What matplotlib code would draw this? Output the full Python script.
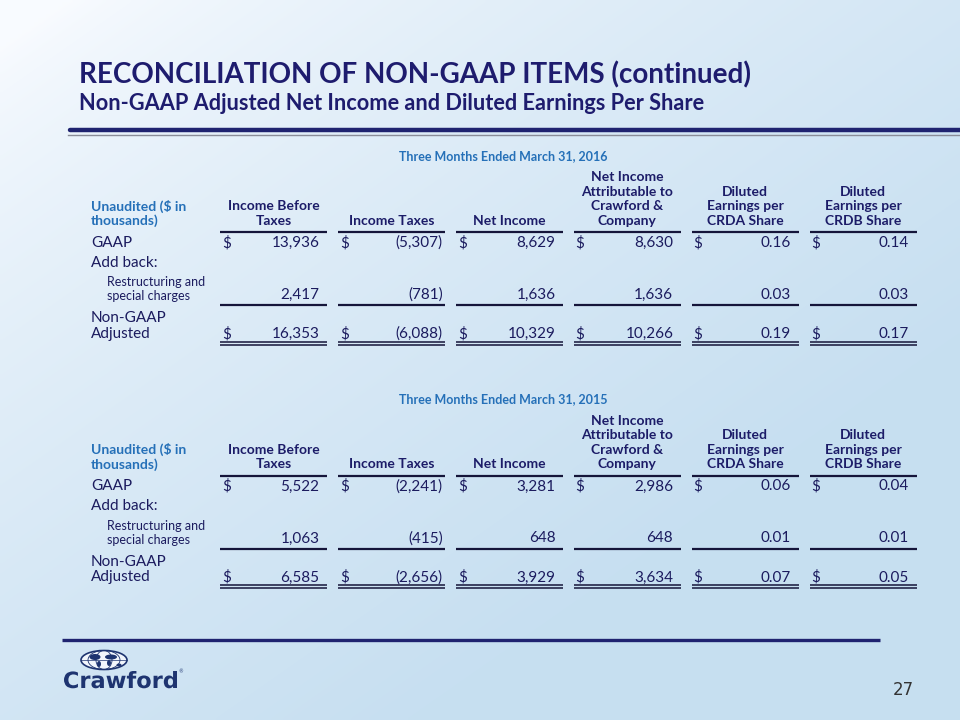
import matplotlib
matplotlib.use('Agg')
import matplotlib.pyplot as plt
import numpy as np
from matplotlib.patches import Ellipse, PathPatch
from matplotlib.textpath import TextPath
from matplotlib.font_manager import FontProperties
from matplotlib.transforms import Affine2D

# ---------------- data ----------------
title = "RECONCILIATION OF NON-GAAP ITEMS (continued)"
subtitle = "Non-GAAP Adjusted Net Income and Diluted Earnings Per Share"
period_2016 = "Three Months Ended March 31, 2016"
period_2015 = "Three Months Ended March 31, 2015"
stub_header = "Unaudited ($ in\nthousands)"
column_headers = ["Income Before\nTaxes", "Income Taxes", "Net Income",
                  "Net Income\nAttributable to\nCrawford &\nCompany",
                  "Diluted\nEarnings per\nCRDA Share", "Diluted\nEarnings per\nCRDB Share"]
row_labels = ["GAAP", "Add back:", "Restructuring and\nspecial charges", "Non-GAAP\nAdjusted"]

gaap_2016 = [13936, -5307, 8629, 8630, 0.16, 0.14]
restructuring_2016 = [2417, -781, 1636, 1636, 0.03, 0.03]
adjusted_2016 = [16353, -6088, 10329, 10266, 0.19, 0.17]

gaap_2015 = [5522, -2241, 3281, 2986, 0.06, 0.04]
restructuring_2015 = [1063, -415, 648, 648, 0.01, 0.01]
adjusted_2015 = [6585, -2656, 3929, 3634, 0.07, 0.05]

page_number = "27"
logo_text = "Crawford"

# ---------------- style ----------------
FONT = ['Lato', 'DejaVu Sans']
TITLE_C = '#1E1C6E'
NAVY = '#1B1B5E'
HEAD_C = '#1C1C68'
MID_BLUE = '#2570B8'
RULE_C = '#15153A'

fig = plt.figure(figsize=(9.6, 7.2), dpi=100)
ax = fig.add_axes([0, 0, 1, 1])
ax.set_xlim(0, 960)
ax.set_ylim(720, 0)
ax.axis('off')

# background gradient
H, W = 180, 240
yy, xx = np.mgrid[0:H, 0:W]
xn = xx / (W - 1)
yn = yy / (H - 1)
t = np.clip(0.7 * xn + 0.75 * yn - 0.05, 0, 1) ** 0.7
white = np.array([0.975, 0.985, 1.0])
blue = np.array([0.78, 0.875, 0.945])
bg = white[None, None, :] * (1 - t[..., None]) + blue[None, None, :] * t[..., None]
ax.imshow(bg, extent=[0, 960, 720, 0], aspect='auto', zorder=0, interpolation='bilinear')

# title
ax.text(79, 75, title, fontsize=20, fontweight='bold', color=TITLE_C, family=FONT,
        va='center', ha='left')
ax.text(79, 104, subtitle, fontsize=15.7, fontweight='bold', color=TITLE_C, family=FONT,
        va='center', ha='left')
ax.plot([70, 960], [130, 130], color='#1F2370', lw=3.2, solid_capstyle='round', zorder=3)
ax.plot([68, 960], [134.5, 134.5], color='#8A8C98', lw=1.0, zorder=3)

# table geometry
col_left = [220 + i * 117.9 for i in range(6)]
col_w = 107
stub_x = 91


def fmt(v):
    if isinstance(v, float) and abs(v) < 1:
        s = f"{abs(v):.2f}"
    else:
        s = f"{abs(int(v)):,}"
    return f"({s})" if v < 0 else s


def draw_values(vals, y, dollar):
    for i, v in enumerate(vals):
        left = col_left[i]
        right = left + col_w
        if dollar:
            ax.text(left + 2, y, "$", fontsize=11, color=NAVY, family=FONT, va='center', ha='left')
        xr = right - 2 if v < 0 else right - 7.5
        ax.text(xr, y, fmt(v), fontsize=11, color=NAVY, family=FONT, va='center', ha='right')


def rule(y, lw=1.6):
    for i in range(6):
        ax.plot([col_left[i], col_left[i] + col_w], [y, y], color=RULE_C, lw=lw,
                solid_capstyle='butt', zorder=3)


def draw_table(dy, period, gaap, restr, adj):
    ax.text(503, 156 + dy, period, fontsize=9, fontweight='bold', color=MID_BLUE,
            family=FONT, va='center', ha='center')
    for k, line in enumerate(reversed(stub_header.split('\n'))):
        ax.text(stub_x, 221 + dy - k * 14.6, line, fontsize=10, fontweight='bold',
                color=MID_BLUE, family=FONT, va='center', ha='left')
    for i, h in enumerate(column_headers):
        cx = col_left[i] + col_w / 2
        for k, line in enumerate(reversed(h.split('\n'))):
            ax.text(cx, 221 + dy - k * 14.6, line, fontsize=10, fontweight='bold',
                    color=HEAD_C, family=FONT, va='center', ha='center')
    rule(232 + dy)
    ax.text(stub_x, 243 + dy, row_labels[0], fontsize=11, color=NAVY, family=FONT, va='center')
    draw_values(gaap, 243 + dy, True)
    ax.text(stub_x, 263 + dy, row_labels[1], fontsize=11, color=NAVY, family=FONT, va='center')
    r1, r2 = row_labels[2].split('\n')
    ax.text(107, 282 + dy, r1, fontsize=9, color=NAVY, family=FONT, va='center')
    ax.text(107, 296 + dy, r2, fontsize=9, color=NAVY, family=FONT, va='center')
    draw_values(restr, 295 + dy, False)
    rule(305 + dy)
    a1, a2 = row_labels[3].split('\n')
    ax.text(stub_x, 318 + dy, a1, fontsize=11, color=NAVY, family=FONT, va='center')
    ax.text(stub_x, 334 + dy, a2, fontsize=11, color=NAVY, family=FONT, va='center')
    draw_values(adj, 334 + dy, True)
    rule(341.5 + dy, lw=1.1)
    rule(344.5 + dy, lw=1.1)


draw_table(0, period_2016, gaap_2016, restructuring_2016, adjusted_2016)
draw_table(243.5, period_2015, gaap_2015, restructuring_2015, adjusted_2015)

# bottom rule
ax.plot([62, 880], [640, 640], color='#1F2370', lw=2.4, solid_capstyle='butt', zorder=3)

# logo: globe
LOGO_C = '#1E3470'
gc = (104, 660)
ax.add_patch(Ellipse(gc, 46, 19, facecolor='#f2f6fc', edgecolor=LOGO_C, lw=1.2, zorder=4))
for w in (32, 16):
    ax.add_patch(Ellipse(gc, w, 19, facecolor='none', edgecolor=LOGO_C, lw=0.6, zorder=4))
ax.plot([81, 127], [660, 660], color=LOGO_C, lw=0.5, zorder=4)
ax.add_patch(Ellipse((95, 657), 11, 6, facecolor=LOGO_C, edgecolor='none', zorder=5))
ax.add_patch(Ellipse((99, 664), 4, 6, facecolor=LOGO_C, edgecolor='none', zorder=5))
ax.add_patch(Ellipse((111, 657), 12, 5, facecolor=LOGO_C, edgecolor='none', zorder=5))
ax.add_patch(Ellipse((109, 663), 4, 6, facecolor=LOGO_C, edgecolor='none', zorder=5))
ax.add_patch(Ellipse((119, 665), 5, 3, facecolor=LOGO_C, edgecolor='none', zorder=5))

# logo: condensed word mark
tp = TextPath((0, 0), logo_text, size=10, prop=FontProperties(family='DejaVu Sans', weight='bold'))
ext = tp.get_extents()
sx = 113.0 / ext.width
sy = 17.0 / ext.y1
trans = Affine2D().translate(-ext.x0, 0).scale(sx, -sy).translate(64, 688) + ax.transData
ax.add_patch(PathPatch(tp, facecolor=LOGO_C, edgecolor='none', transform=trans, zorder=5))
ax.text(178.5, 672, "\u00ae", fontsize=3.5, color=LOGO_C, family=['DejaVu Sans'], va='center')

ax.text(903, 690, page_number, fontsize=12, color='#333333',
        family=['Liberation Sans Narrow', 'DejaVu Sans'], va='center', ha='center')

fig.savefig('out.png', dpi=100)
